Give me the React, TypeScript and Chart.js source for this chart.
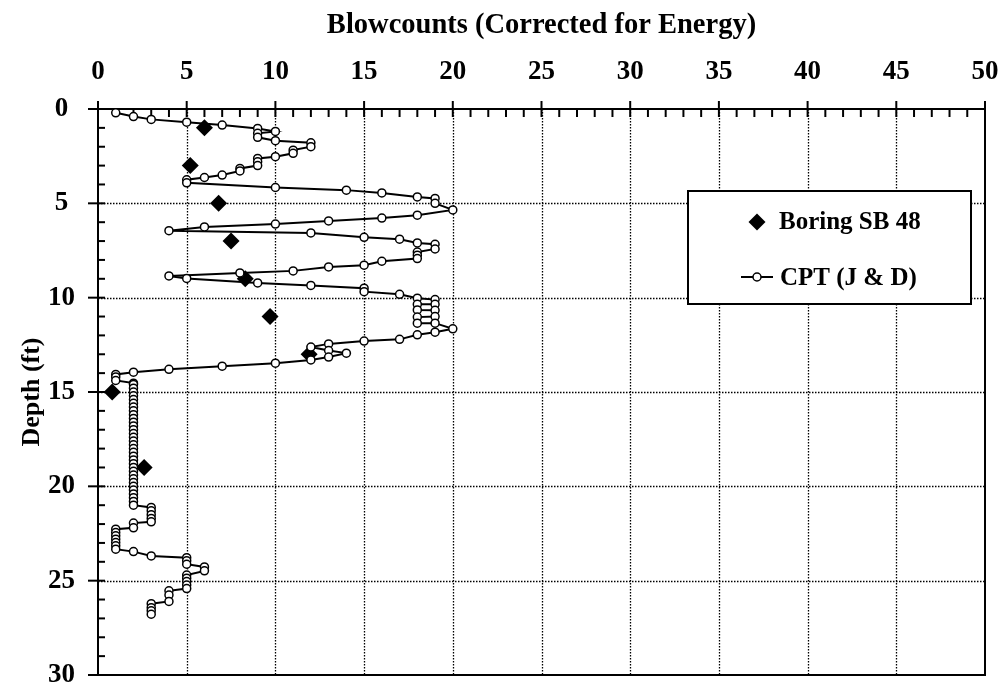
import React, { useEffect, useRef } from 'react';
import { Chart, registerables } from 'chart.js';

Chart.register(...registerables);

// ---- Data ----
const boringLabel = 'Boring SB 48';
const boringDepths = [1, 3, 5, 7, 9, 11, 13, 15, 19];
const boringBlowcounts = [6.0, 5.2, 6.8, 7.5, 8.3, 9.7, 11.9, 0.8, 2.6];

const cptLabel = 'CPT (J & D)';
const cptDepths = [
  0.2, 0.4, 0.55, 0.7, 0.85, 1.03, 1.19, 1.29, 1.5, 1.68,
  1.79, 2.0, 2.18, 2.35, 2.53, 2.62, 2.8, 3.0, 3.15, 3.28,
  3.5, 3.63, 3.75, 3.91, 4.16, 4.3, 4.45, 4.66, 4.74, 5.0,
  5.35, 5.63, 5.78, 5.93, 6.1, 6.25, 6.45, 6.57, 6.8, 6.9,
  7.1, 7.17, 7.42, 7.58, 7.75, 7.93, 8.07, 8.28, 8.37, 8.58,
  8.69, 8.85, 8.98, 9.22, 9.35, 9.5, 9.68, 9.82, 10.03, 10.1,
  10.35, 10.35, 10.65, 10.67, 11.0, 11.03, 11.35, 11.35, 11.65, 11.83,
  11.97, 12.21, 12.3, 12.45, 12.62, 12.8, 12.94, 13.15, 13.3, 13.47,
  13.63, 13.8, 13.95, 14.07, 14.2, 14.39, 14.53,
  14.6, 14.8, 15.0, 15.2, 15.4, 15.6, 15.8, 16.0, 16.2, 16.4,
  16.6, 16.8, 17.0, 17.2, 17.4, 17.6, 17.8, 18.0, 18.2, 18.4,
  18.6, 18.8, 19.0, 19.2, 19.4, 19.6, 19.8, 20.0, 20.2, 20.4,
  20.6, 20.8, 21.0,
  21.12, 21.3, 21.5, 21.7, 21.88, 21.95, 22.2, 22.27, 22.45, 22.62,
  22.8, 22.98, 23.15, 23.33, 23.46, 23.69, 23.78, 23.95, 24.13, 24.27,
  24.48, 24.7, 24.87, 25.05, 25.23, 25.42, 25.54, 25.76, 26.1, 26.22,
  26.43, 26.6, 26.78,
];
const cptBlowcounts = [
  1, 2, 3, 5, 7, 9, 10, 9, 9, 10,
  12, 12, 11, 11, 10, 9, 9, 9, 8, 8,
  7, 6, 5, 5, 10, 14, 16, 18, 19, 19,
  20, 18, 16, 13, 10, 6, 4, 12, 15, 17,
  18, 19, 19, 18, 18, 18, 16, 15, 13, 11,
  8, 4, 5, 9, 12, 15, 15, 17, 18, 19,
  19, 18, 18, 19, 19, 18, 18, 19, 20, 19,
  18, 17, 15, 13, 12, 13, 14, 13, 12, 10,
  7, 4, 2, 1, 1, 1, 2,
  2, 2, 2, 2, 2, 2, 2, 2, 2, 2,
  2, 2, 2, 2, 2, 2, 2, 2, 2, 2,
  2, 2, 2, 2, 2, 2, 2, 2, 2, 2,
  2, 2, 2,
  3, 3, 3, 3, 3, 2, 2, 1, 1, 1,
  1, 1, 1, 1, 2, 3, 5, 5, 5, 6,
  6, 5, 5, 5, 5, 5, 4, 4, 4, 3,
  3, 3, 3,
];

const xMin = 0, xMax = 50, xStep = 5;
const yMin = 0, yMax = 30, yStep = 5;
const xTitle = 'Blowcounts (Corrected for Energy)';
const yTitle = 'Depth (ft)';

const FONT = '"Liberation Serif", "Times New Roman", serif';

const framePlugin = {
  id: 'frameTicks',
  beforeDatasetsDraw(chart: any) {
    const { ctx, chartArea, scales } = chart;
    const { left, right, top, bottom } = chartArea;
    const x = scales.x, y = scales.y;
    ctx.save();
    // dotted gridlines
    ctx.strokeStyle = '#000';
    ctx.lineWidth = 1.3;
    ctx.setLineDash([1.5, 1.5]);
    for (let v = xMin + xStep; v < xMax; v += xStep) {
      const px = Math.round(x.getPixelForValue(v)) + 0.5;
      ctx.beginPath(); ctx.moveTo(px, top); ctx.lineTo(px, bottom); ctx.stroke();
    }
    for (let v = yMin + yStep; v < yMax; v += yStep) {
      const py = Math.round(y.getPixelForValue(v)) + 0.5;
      ctx.beginPath(); ctx.moveTo(left, py); ctx.lineTo(right, py); ctx.stroke();
    }
    ctx.setLineDash([]);
    // frame
    ctx.lineWidth = 2;
    ctx.strokeRect(left, top, right - left, bottom - top);
    // ticks on top axis
    for (let v = xMin; v <= xMax; v += 1) {
      const px = x.getPixelForValue(v);
      const major = v % xStep === 0;
      ctx.beginPath();
      ctx.moveTo(px, major ? top - 8 : top);
      ctx.lineTo(px, top + 8);
      ctx.stroke();
    }
    // ticks on left axis
    for (let v = yMin; v <= yMax; v += 1) {
      const py = y.getPixelForValue(v);
      const major = v % yStep === 0;
      ctx.beginPath();
      ctx.moveTo(major ? left - 10 : left, py);
      ctx.lineTo(left + 7, py);
      ctx.stroke();
    }
    ctx.restore();
  },
  afterDraw(chart: any) {
    const { ctx } = chart;
    const ds = chart.data.datasets;
    ctx.save();
    const bx = 688, by = 191, bw = 283, bh = 113;
    ctx.fillStyle = '#fff';
    ctx.fillRect(bx, by, bw, bh);
    ctx.lineWidth = 2;
    ctx.strokeStyle = '#000';
    ctx.strokeRect(bx, by, bw, bh);
    // diamond
    const dx = 757, dy = 222, r = 8.5;
    ctx.beginPath();
    ctx.moveTo(dx, dy - r); ctx.lineTo(dx + r, dy); ctx.lineTo(dx, dy + r); ctx.lineTo(dx - r, dy);
    ctx.closePath();
    ctx.fillStyle = '#000';
    ctx.fill();
    // cpt line + circle
    const cy = 277;
    ctx.beginPath(); ctx.moveTo(741, cy); ctx.lineTo(773, cy); ctx.lineWidth = 2; ctx.stroke();
    ctx.beginPath(); ctx.arc(757, cy, 4, 0, Math.PI * 2);
    ctx.fillStyle = '#fff'; ctx.fill(); ctx.lineWidth = 1.5; ctx.stroke();
    // labels
    ctx.fillStyle = '#000';
    ctx.font = `bold 25px ${FONT}`;
    ctx.textAlign = 'left';
    ctx.textBaseline = 'alphabetic';
    ctx.fillText(ds[0].label, 779, 229);
    ctx.fillText(ds[1].label, 780, 285);
    ctx.restore();
  },
};

const zeroPad = (scale: any) => {
  scale.paddingTop = 0;
  scale.paddingBottom = 0;
  scale.paddingLeft = 0;
  scale.paddingRight = 0;
};

export default function App() {
  const ref = useRef<HTMLCanvasElement>(null);
  useEffect(() => {
    const boringData = boringDepths.map((d, i) => ({ x: boringBlowcounts[i], y: d }));
    const cptData = cptDepths.map((d, i) => ({ x: cptBlowcounts[i], y: d }));
    const chart = new Chart(ref.current as HTMLCanvasElement, {
      type: 'scatter',
      data: {
        datasets: [
          {
            label: boringLabel,
            data: boringData,
            showLine: false,
            pointStyle: 'rectRot',
            pointRadius: 8.5,
            pointBackgroundColor: '#000',
            pointBorderColor: '#000',
            pointBorderWidth: 0,
            order: 1,
          },
          {
            label: cptLabel,
            data: cptData,
            showLine: true,
            borderColor: '#000',
            borderWidth: 2,
            tension: 0,
            pointStyle: 'circle',
            pointRadius: 4,
            pointBackgroundColor: '#fff',
            pointBorderColor: '#000',
            pointBorderWidth: 1.5,
            order: 0,
          },
        ],
      } as any,
      options: {
        responsive: false,
        animation: false,
        devicePixelRatio: 1,
        layout: { padding: { left: 0, top: 0, right: 20, bottom: 14 }, autoPadding: false },
        plugins: {
          legend: { display: false },
          tooltip: { enabled: false },
        },
        scales: {
          x: {
            type: 'linear',
            position: 'top',
            min: xMin,
            max: xMax,
            grid: { display: false },
            border: { display: false },
            ticks: {
              stepSize: xStep,
              padding: 13,
              color: '#000',
              font: { family: FONT, size: 27, weight: 'bold' },
            },
            title: {
              display: true,
              text: xTitle,
              color: '#000',
              padding: { top: 9, bottom: 0 },
              font: { family: FONT, size: 28.5, weight: 'bold' },
            },
            afterFit: (scale: any) => { scale.height = 109; zeroPad(scale); },
          },
          y: {
            type: 'linear',
            reverse: true,
            min: yMin,
            max: yMax,
            grid: { display: false },
            border: { display: false },
            ticks: {
              stepSize: yStep,
              padding: 15,
              crossAlign: 'center',
              color: '#000',
              font: { family: FONT, size: 27, weight: 'bold' },
            },
            title: {
              display: true,
              text: yTitle,
              color: '#000',
              padding: { top: 17, bottom: 0 },
              font: { family: FONT, size: 26, weight: 'bold' },
            },
            afterFit: (scale: any) => { scale.width = 98; zeroPad(scale); },
          },
        },
      } as any,
      plugins: [framePlugin],
    });
    return () => chart.destroy();
  }, []);
  return (
    <div style={{ position: 'fixed', left: 0, top: 0, width: 1005, height: 689, background: '#fff' }}>
      <canvas ref={ref} width={1005} height={689} style={{ display: 'block', width: 1005, height: 689 }} />
    </div>
  );
}
